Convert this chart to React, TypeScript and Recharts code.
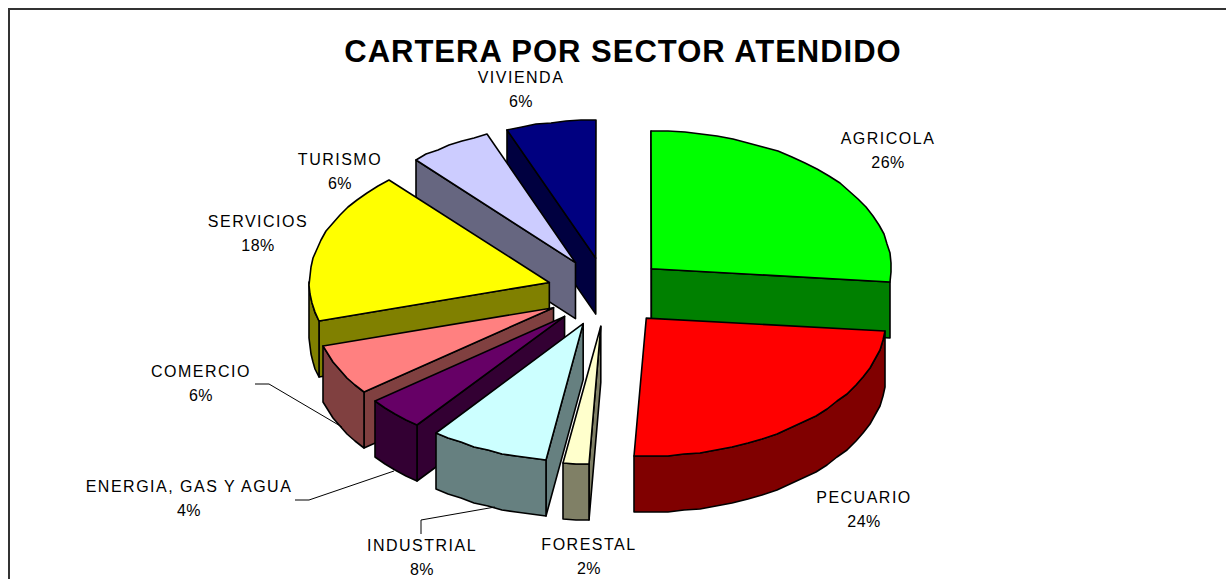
import { PieChart, Pie } from "recharts";

// Slices run counter-clockwise from AGRICOLA so the front ones paint last
const sectors = [
  "AGRICOLA",
  "VIVIENDA",
  "TURISMO",
  "SERVICIOS",
  "COMERCIO",
  "ENERGIA, GAS Y AGUA",
  "INDUSTRIAL",
  "FORESTAL",
  "PECUARIO",
];
const shares = [26.49, 6.0, 5.6, 17.9, 6.0, 4.0, 8.0, 1.7, 24.31];
const topColors = ["#00ff00", "#000080", "#ccccff", "#ffff00", "#ff8080", "#660066", "#ccffff", "#ffffcc", "#ff0000"];
const wallColors = ["#008000", "#000040", "#666680", "#808000", "#804040", "#330033", "#668080", "#808066", "#800000"];

const data = sectors.map((name, i) => ({ name, value: shares[i] }));

// Hand placed labels, same order as sectors
const labelSpots = [
  [888, 138],
  [521, 77],
  [340, 159],
  [258, 221],
  [201, 371],
  [189, 486],
  [422, 545],
  [589, 544],
  [864, 497],
];
const leaders: Record<string, number[][]> = {
  COMERCIO: [[255, 384], [269, 384], [342, 427]],
  "ENERGIA, GAS Y AGUA": [[295, 500], [309, 500], [394, 471]],
  INDUSTRIAL: [[421, 534], [421, 520], [495, 507]],
};

const SQUASH = 0.575;
const DEPTH = 56;
const EXPLODE = 60;
const rad = (d: number) => (d * Math.PI) / 180;

function Slice3D(props: any) {
  const { cx, cy, outerRadius: r, startAngle, endAngle, index } = props;
  // clockwise degrees from 12 o'clock, kept in 0..360
  const a1 = (((90 - endAngle) % 360) + 360) % 360;
  const a2 = a1 + (endAngle - startAngle);
  const mid = (a1 + a2) / 2;
  const ox = cx + EXPLODE * Math.sin(rad(mid));
  const oy = cy - EXPLODE * SQUASH * Math.cos(rad(mid));
  const pt = (a: number, drop = 0): [number, number] => [
    Math.round(ox + r * Math.sin(rad(a))),
    Math.round(oy - r * SQUASH * Math.cos(rad(a)) + drop),
  ];
  const arc = (from: number, to: number, drop = 0) => {
    const n = Math.max(2, Math.ceil((to - from) / 4));
    return Array.from({ length: n + 1 }, (_, k) => pt(from + ((to - from) * k) / n, drop));
  };
  const path = (pts: number[][]) => "M" + pts.map((p) => p.join(",")).join("L") + "Z";
  const apex = [ox, oy];
  const apexLow = [ox, oy + DEPTH];
  const stroke = { stroke: "#000", strokeWidth: 1.6, strokeLinejoin: "round" as const };
  const wall = wallColors[index];

  const walls: number[][][] = [];
  if (Math.sin(rad(a1)) < 0) walls.push([apex, pt(a1), pt(a1, DEPTH), apexLow]);
  if (Math.sin(rad(a2)) > 0) walls.push([apex, pt(a2), pt(a2, DEPTH), apexLow]);
  // outer rim, only the part facing the viewer
  const rimFrom = Math.max(a1, 90);
  const rimTo = Math.min(a2, 270);
  if (rimFrom < rimTo) {
    walls.push([...arc(rimFrom, rimTo), ...arc(rimFrom, rimTo, DEPTH).reverse()]);
  }

  return (
    <g>
      {walls.map((w, i) => (
        <path key={i} d={path(w)} fill={wall} {...stroke} />
      ))}
      <path d={path([apex, ...arc(a1, a2)])} fill={topColors[index]} {...stroke} />
    </g>
  );
}

function SliceLabel(props: any) {
  const { index, name, percent } = props;
  const [x, y] = labelSpots[index];
  const line = leaders[name];
  return (
    <g>
      {line && <polyline points={line.join(" ")} fill="none" stroke="#000" strokeWidth={1} />}
      <text x={x} y={y + 6} textAnchor="middle" fontSize={16} fontFamily="Liberation Sans" fill="#000" letterSpacing={1.5}>
        {name}
      </text>
      <text x={x} y={y + 30} textAnchor="middle" fontSize={16} fontFamily="Liberation Sans" fill="#000" letterSpacing={0.5}>
        {Math.round(percent * 100)}%
      </text>
    </g>
  );
}

export default function App() {
  return (
    <div style={{ position: "fixed", left: 0, top: 0, width: 1226, height: 579, overflow: "hidden", background: "#fff" }}>
      <div style={{ position: "absolute", left: 8, top: 8, right: 0, bottom: 0, borderLeft: "2px solid #333", borderTop: "2px solid #333" }} />
      <div style={{ position: "absolute", left: 0, top: 0 }}>
        <PieChart width={1226} height={579} margin={{ top: 0, right: 0, bottom: 0, left: 0 }}>
          <text x={623} y={62} textAnchor="middle" fontSize={31} fontWeight="bold" fontFamily="Liberation Sans" fill="#000" letterSpacing={1}>
            CARTERA POR SECTOR ATENDIDO
          </text>
          <Pie
            data={data}
            dataKey="value"
            nameKey="name"
            cx={607}
            cy={292}
            outerRadius={240}
            startAngle={-5.36}
            endAngle={354.64}
            paddingAngle={0}
            shape={Slice3D}
            label={SliceLabel}
            labelLine={false}
            isAnimationActive={false}
          />
        </PieChart>
      </div>
    </div>
  );
}
